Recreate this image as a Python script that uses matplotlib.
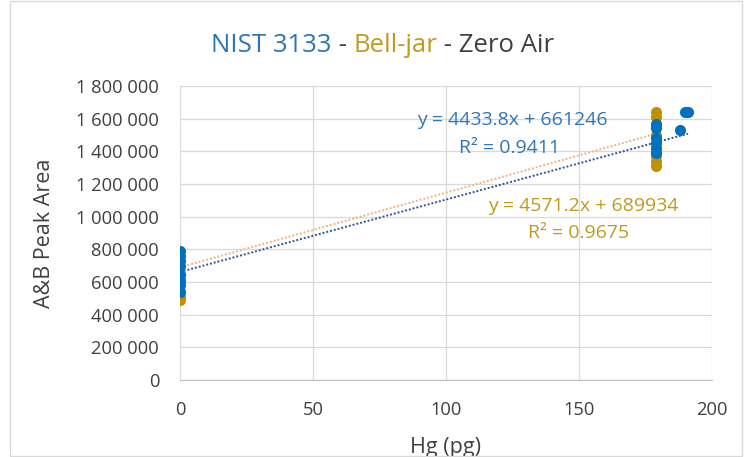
import matplotlib
matplotlib.use("Agg")
import matplotlib.pyplot as plt
from matplotlib.ticker import FuncFormatter, MultipleLocator
from matplotlib.patches import Rectangle
import numpy as np

plt.rcParams['font.family'] = ['Open Sans', 'DejaVu Sans']

# Data
blue_x = [0, 0, 0, 0, 0, 0, 0, 0,
          179, 179, 179, 179, 179, 179, 188, 190, 191]
blue_y = [540000, 580000, 610000, 640000, 700000, 730000, 760000, 790000,
          1390000, 1420000, 1450000, 1480000, 1540000, 1570000, 1530000, 1640000, 1640000]
gold_x = [0, 0, 0, 0, 0,
          179, 179, 179, 179, 179, 179, 179, 179]
gold_y = [490000, 510000, 540000, 600000, 650000,
          1310000, 1340000, 1370000, 1400000, 1500000, 1560000, 1610000, 1640000]
blue_fit = (4433.8, 661246)
gold_fit = (4571.2, 689934)
blue_eq = ["y = 4433.8x + 661246", "R\u00b2 = 0.9411"]
gold_eq = ["y = 4571.2x + 689934", "R\u00b2 = 0.9675"]
title_parts = ["NIST 3133", " - ", "Bell-jar", " - Zero Air"]

BLUE = "#0070C0"
GOLD = "#BF9000"
BLUE_T = "#2E75B6"
GOLD_T = "#C09A1E"

fig = plt.figure(figsize=(7.53, 4.57), dpi=100)
fig.patches.append(Rectangle((0.013, 0.002), 0.972, 0.996, transform=fig.transFigure,
                             fill=False, edgecolor="#D9D9D9", linewidth=1.0))
ax = fig.add_axes([0.239, 0.1685, 0.7065, 0.6433])

ax.scatter(gold_x, gold_y, s=64, color=GOLD, zorder=3, linewidths=0)
ax.scatter(blue_x, blue_y, s=64, color=BLUE, zorder=4, linewidths=0)

xb = np.array([0, max(blue_x)])
xg = np.array([0, max(gold_x)])
ax.plot(xg, gold_fit[0] * xg + gold_fit[1], linestyle=(0, (1, 1)), color="#F4B183", lw=1.4, zorder=2)
ax.plot(xb, blue_fit[0] * xb + blue_fit[1], linestyle=(0, (1, 1)), color="#2F5597", lw=1.4, zorder=2)

ax.set_xlim(0, 200)
ax.set_ylim(0, 1800000)
ax.xaxis.set_major_locator(MultipleLocator(50))
ax.yaxis.set_major_locator(MultipleLocator(200000))
ax.yaxis.set_major_formatter(FuncFormatter(lambda v, p: f"{int(v):,}".replace(",", " ")))
ax.grid(True, color="#D9D9D9", linewidth=0.9)
ax.set_axisbelow(True)
for s in ["top", "right", "left"]:
    ax.spines[s].set_visible(False)
ax.spines["bottom"].set_color("#BFBFBF")
ax.tick_params(length=0, labelsize=13.2, colors="#404040")
ax.tick_params(axis="x", pad=15)
ax.tick_params(axis="y", pad=15)
ax.set_xlabel("Hg (pg)", fontsize=15.5, color="#404040", va="center", ha="center")
ax.set_ylabel("A&B Peak Area", fontsize=15.5, color="#404040", va="center", ha="center")
ax.xaxis.set_label_coords(0.5, -0.228)
ax.yaxis.set_label_coords(-0.254, 0.5)

ax.text(125, 1590000, blue_eq[0], color=BLUE_T, fontsize=14, ha="center", va="center")
ax.text(124, 1420000, blue_eq[1], color=BLUE_T, fontsize=14, ha="center", va="center")
ax.text(151.5, 1065000, gold_eq[0], color=GOLD_T, fontsize=14, ha="center", va="center")
ax.text(150, 900000, gold_eq[1], color=GOLD_T, fontsize=14, ha="center", va="center")

# multi-colour title
colors = [BLUE_T, "#404040", GOLD_T, "#404040"]
fig.canvas.draw()
r = fig.canvas.get_renderer()
texts = []
for t, c in zip(title_parts, colors):
    texts.append(fig.text(0, 1 - 45 / 457, t, color=c, fontsize=18.5, va="center", ha="left"))
widths = [tx.get_window_extent(r).width for tx in texts]
total = sum(widths)
start = 383 - total / 2
for tx, w in zip(texts, widths):
    tx.set_x(start / 753)
    start += w

fig.savefig("out.png", dpi=100)
